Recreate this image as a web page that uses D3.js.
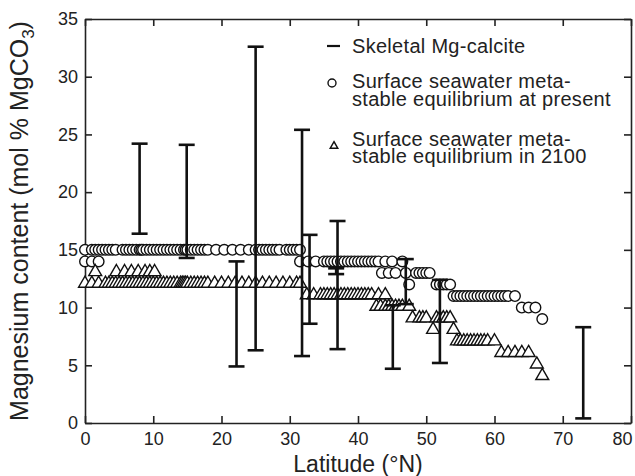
<!DOCTYPE html>
<html>
<head>
<meta charset="utf-8">
<script src="https://cdn.jsdelivr.net/npm/d3@7"></script>
<style>
  body { margin: 0; background: #fff; }
  svg { font-family: "Liberation Sans", Arial, sans-serif; }
  .axis path, .axis line { stroke: #222; stroke-width: 1.6; }
  .axis text { font-size: 18px; fill: #222; }
  .bar { stroke: #111; stroke-width: 2.6; }
  .present { fill: #fff; stroke: #111; stroke-width: 1.4; }
  .future { fill: #fff; stroke: #111; stroke-width: 1.4; }
  .legend text { font-size: 20px; fill: #222; letter-spacing: 0.3px; }
  .title { font-size: 23px; fill: #222; }
</style>
</head>
<body>
<svg width="635" height="476"></svg>
<script>
// skeletal Mg-calcite ranges
const skeletalLat = [8, 14.9, 22.2, 25, 31.8, 32.9, 36.8, 37, 45.1, 47, 52, 73]
const skeletalLow = [16.4, 14.3, 4.9, 6.3, 5.8, 8.6, 12.9, 6.4, 4.7, 10.3, 5.2, 0.4]
const skeletalHigh = [24.2, 24.1, 14.0, 32.6, 25.4, 16.3, 13.4, 17.5, 10.2, 14.2, 12.4, 8.3]

// surface seawater metastable equilibrium at present [lat, mol %]
const presentPoints = [
  [0, 15], [1, 15], [1.5, 15], [2, 15], [2.5, 15], [3, 15], [3.5, 15], [4, 15], [4.5, 15],
  [5.5, 15], [6, 15], [6.5, 15], [7, 15], [7.5, 15], [8, 15], [8.25, 15], [8.5, 15], [9, 15],
  [9.5, 15], [10, 15], [10.5, 15], [11, 15], [11.5, 15], [12, 15], [12.5, 15], [13, 15],
  [13.5, 15], [14, 15], [14.5, 15], [14.75, 15], [15, 15], [15.5, 15], [16, 15], [16.5, 15],
  [17, 15], [17.5, 15], [18, 15], [19.2, 15], [20.4, 15], [21.6, 15], [22.8, 15], [24, 15],
  [25, 15], [25.5, 15], [26, 15], [26.5, 15], [27, 15], [27.5, 15], [28, 15], [28.5, 15],
  [29.5, 15], [30, 15], [30.5, 15], [31, 15], [31.5, 15],
  [0, 14], [1, 14], [2, 14], [31.5, 14], [32.7, 14], [33.8, 14], [35, 14], [35.5, 14], [36, 14],
  [36.5, 14], [37, 14], [37.5, 14], [38, 14], [38.5, 14], [39, 14], [39.5, 14], [40, 14],
  [40.5, 14], [41, 14], [41.5, 14], [42, 14], [42.5, 14], [43, 14], [44, 14], [45, 14], [46.5, 14],
  [43.5, 13], [44.5, 13], [45.5, 13], [47, 13], [48.5, 13], [49, 13], [49.5, 13], [50, 13], [50.5, 13],
  [47.5, 12], [51.5, 12], [52, 12], [52.5, 12], [53, 12], [53.5, 12],
  [54, 11], [54.5, 11], [55, 11], [55.5, 11], [56, 11], [56.5, 11], [57, 11], [57.5, 11], [58, 11],
  [58.5, 11], [59, 11], [59.5, 11], [60, 11], [60.5, 11], [61, 11], [61.5, 11], [62, 11], [63, 11],
  [64, 10], [65, 10], [66, 10],
  [67, 9]
]

// surface seawater metastable equilibrium in 2100 [lat, mol %]
const futurePoints = [
  [0, 12], [1, 12], [2, 12], [3, 12], [3.5, 12], [4, 12], [4.5, 12], [5, 12], [5.5, 12], [6, 12],
  [6.5, 12], [7, 12], [7.5, 12], [8, 12], [8.5, 12], [9, 12], [9.5, 12], [10, 12], [10.5, 12],
  [11, 12], [11.5, 12], [12, 12], [12.5, 12], [13, 12], [13.5, 12], [14, 12], [14.25, 12],
  [14.5, 12], [14.75, 12], [15, 12], [15.5, 12], [16, 12], [16.5, 12], [17, 12], [17.5, 12],
  [18, 12], [19, 12], [20, 12], [21, 12], [22, 12], [23, 12], [24, 12], [25, 12], [26, 12],
  [27, 12], [28, 12], [29, 12], [30, 12], [31, 12], [31.5, 12],
  [1.5, 13], [4.6, 13], [5.8, 13], [6.8, 13], [7.8, 13], [8.8, 13], [9.5, 13], [10.2, 13],
  [32.5, 11], [33.5, 11], [34.5, 11], [35, 11], [35.5, 11], [36, 11], [36.5, 11], [37, 11],
  [37.5, 11], [38, 11], [38.5, 11], [39, 11], [39.5, 11], [40, 11], [40.5, 11], [41, 11],
  [41.5, 11], [42, 11], [43, 11], [44, 11],
  [42.7, 10], [43.3, 10], [44, 10], [44.5, 10], [45, 10], [45.5, 10], [46, 10], [46.5, 10], [47.5, 10],
  [48, 9], [49, 9], [49.5, 9], [50, 9], [51.5, 9], [52, 9], [52.5, 9], [53, 9], [53.5, 9],
  [51, 8], [54, 8],
  [54.5, 7], [55, 7], [55.5, 7], [56, 7], [56.5, 7], [57, 7], [57.5, 7], [58, 7], [58.5, 7],
  [59, 7], [60, 7],
  [61, 6], [62, 6], [63, 6], [64, 6], [65, 6],
  [66.2, 5],
  [67, 4]
]

const xTicks = [0, 10, 20, 30, 40, 50, 60, 70, 80]
const yTicks = [0, 5, 10, 15, 20, 25, 30, 35]
const legendLines = [
  ["Skeletal Mg-calcite"],
  ["Surface seawater meta-", "stable equilibrium at present"],
  ["Surface seawater meta-", "stable equilibrium in 2100"]
]

const svg = d3.select("svg")

const x = d3.scaleLinear()
  .domain([0, 80])
  .range([85, 631])

const y = d3.scaleLinear()
  .domain([0, 35])
  .range([423, 19])

// axes on four sides, ticks pointing inward
svg.append("g")
  .attr("class", "axis")
  .attr("transform", `translate(0, ${y(0)})`)
  .call(d3.axisBottom(x).tickValues(xTicks).tickSizeInner(-7).tickSizeOuter(0).tickPadding(9))
  .selectAll("text")
  .filter(d => d === 80)
  .attr("text-anchor", "end")
  .attr("dx", 1)

svg.append("g")
  .attr("class", "axis")
  .attr("transform", `translate(0, ${y(35)})`)
  .call(d3.axisTop(x).tickValues(xTicks).tickSizeInner(-7).tickSizeOuter(0).tickFormat(""))

svg.append("g")
  .attr("class", "axis")
  .attr("transform", `translate(${x(0)}, 0)`)
  .call(d3.axisLeft(y).tickValues(yTicks).tickSizeInner(-7).tickSizeOuter(0).tickPadding(7))

svg.append("g")
  .attr("class", "axis")
  .attr("transform", `translate(${x(80)}, 0)`)
  .call(d3.axisRight(y).tickValues(yTicks).tickSizeInner(-7).tickSizeOuter(0).tickFormat(""))

// circles: present
svg.append("g")
  .selectAll("circle")
  .data(presentPoints)
  .enter()
  .append("circle")
  .attr("class", "present")
  .attr("cx", d => x(d[0]))
  .attr("cy", d => y(d[1]))
  .attr("r", 5.3)

// triangles: 2100
const tri = d3.symbol().type(d3.symbolTriangle).size(72)
svg.append("g")
  .selectAll("path")
  .data(futurePoints)
  .enter()
  .append("path")
  .attr("class", "future")
  .attr("transform", d => `translate(${x(d[0])}, ${y(d[1]) - 1})`)
  .attr("d", tri)

// skeletal error bars
const bars = svg.append("g")
  .selectAll("g")
  .data(skeletalLat)
  .enter()
  .append("g")
  .attr("class", "bar")

bars.append("line")
  .attr("x1", d => x(d))
  .attr("x2", d => x(d))
  .attr("y1", (d, i) => y(skeletalLow[i]))
  .attr("y2", (d, i) => y(skeletalHigh[i]))

bars.append("line")
  .attr("x1", d => x(d) - 8)
  .attr("x2", d => x(d) + 8)
  .attr("y1", (d, i) => y(skeletalLow[i]))
  .attr("y2", (d, i) => y(skeletalLow[i]))

bars.append("line")
  .attr("x1", d => x(d) - 8)
  .attr("x2", d => x(d) + 8)
  .attr("y1", (d, i) => y(skeletalHigh[i]))
  .attr("y2", (d, i) => y(skeletalHigh[i]))

// legend
const legend = svg.append("g").attr("class", "legend")

legend.append("line")
  .attr("x1", 327).attr("x2", 340)
  .attr("y1", 46).attr("y2", 46)
  .attr("stroke", "#111").attr("stroke-width", 2.2)

legend.append("circle")
  .attr("cx", 332).attr("cy", 83).attr("r", 4)
  .attr("fill", "#fff").attr("stroke", "#111").attr("stroke-width", 1.4)

legend.append("path")
  .attr("transform", "translate(334, 146)")
  .attr("d", d3.symbol().type(d3.symbolTriangle).size(24))
  .attr("fill", "#fff").attr("stroke", "#111").attr("stroke-width", 1.5)

const legendY = [[53], [88, 106], [146, 163]]
legendLines.forEach((lines, i) => {
  lines.forEach((t, j) => {
    legend.append("text")
      .attr("x", 352)
      .attr("y", legendY[i][j])
      .text(t)
  })
})

// axis titles
svg.append("text")
  .attr("class", "title")
  .attr("x", (x(0) + x(80)) / 2)
  .attr("y", 472)
  .attr("text-anchor", "middle")
  .text("Latitude (°N)")

const yTitle = svg.append("text")
  .attr("class", "title")
  .style("font-size", "25px")
  .attr("transform", `translate(28, ${(y(0) + y(35)) / 2}) rotate(-90)`)
  .attr("text-anchor", "middle")

yTitle.append("tspan").text("Magnesium content (mol % MgCO")
yTitle.append("tspan").attr("dy", 6).style("font-size", "17px").text("3")
yTitle.append("tspan").attr("dy", -6).text(")")
</script>
</body>
</html>
